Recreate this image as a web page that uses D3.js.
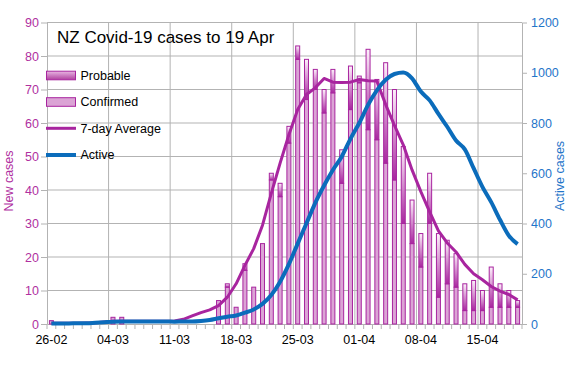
<!DOCTYPE html>
<html><head><meta charset="utf-8">
<script src="https://cdn.jsdelivr.net/npm/d3@7"></script>
<style>body{margin:0;background:#fff}svg{display:block;font-family:"Liberation Sans",Arial,sans-serif}</style>
</head><body><svg id="c" width="572" height="392"></svg>
<script>
const dates = ["26-02","27-02","28-02","29-02",
"01-03","02-03","03-03","04-03","05-03","06-03","07-03","08-03","09-03","10-03",
"11-03","12-03","13-03","14-03","15-03","16-03","17-03","18-03","19-03","20-03",
"21-03","22-03","23-03","24-03","25-03","26-03","27-03","28-03","29-03","30-03","31-03",
"01-04","02-04","03-04","04-04","05-04","06-04","07-04","08-04","09-04","10-04",
"11-04","12-04","13-04","14-04","15-04","16-04","17-04","18-04","19-04"];
const tickDates = ["26-02","04-03","11-03","18-03","25-03","01-04","08-04","15-04"];
const confirmed = [1,0,0,0,0,0,0,2,2,0, 0,0,0,0,0,0,0,0,0,7, 11,5,16,11,24,43,38,54,79,67,
  70,63,69,42,64,72,58,55,48,43, 30,24,17,30,8,12,11,4,4,4, 5,5,5,5];
const probable = [0,0,0,0,0,0,0,0,0,0, 0,0,0,0,0,0,0,0,0,0, 1,0,2,0,0,2,4,5,4,12,
  6,7,7,10,13,2,24,18,30,27, 23,13,10,15,19,13,10,8,9,6, 12,7,5,2];
const avg7 = [0.2,0.2,0.2,0.2,0.3,0.4,0.6,0.8,0.8,0.8, 0.8,0.8,0.8,0.8,0.9,1.4,2.4,3.4,4.2,5.5,
  8.0,12.0,17.5,22.5,29.5,39,48,56.5,64,68.5, 70.5,73.3,72.2,72.1,72.2,73,72.6,72.5,65.5,59.3,
  53.5,46,39.5,33.5,27.8,24.2,21.5,17.8,15,13.2, 11.2,9.8,8.8,7.2];
const active = [2,2,2,3,3,5,7,9,10,10, 10,10,10,10,9,10,10,12,16,23,
  29,34,45,58,80,115,168,238,320,401, 482,551,613,666,737,800,872,930,972,995,
  1001,978,925,890,836,785,730,695,620,546, 485,415,352,318];
const casesTicks = [0,10,20,30,40,50,60,70,80,90];
const activeTicks = [0,200,400,600,800,1000,1200];
const legendLabels = ["Probable","Confirmed","7-day Average","Active"];
const titleText = "NZ Covid-19 cases to 19 Apr";

const MAG = "#a8259f", MAGTXT = "#b0309f", BLUE = "#0b6cbb", BLUETXT = "#1f75c9", GRID = "#b3b3b3";
const CONF_FILL = "#dba4d5";
const L = 47, R = 522, T = 22.5, B = 324;

const svg = d3.select("#c");
const defs = svg.append("defs");
const g1 = defs.append("linearGradient").attr("id","pg").attr("x1",0).attr("y1",0).attr("x2",0).attr("y2",1);
g1.append("stop").attr("offset","0%").attr("stop-color","#fdf2fb");
g1.append("stop").attr("offset","100%").attr("stop-color","#a8279f");
const g2 = defs.append("linearGradient").attr("id","lg").attr("x1",0).attr("y1",0).attr("x2",0).attr("y2",1);
g2.append("stop").attr("offset","0%").attr("stop-color","#e8b6e2");
g2.append("stop").attr("offset","100%").attr("stop-color","#b0409f");

const x = d3.scaleBand().domain(dates).range([L, R]).padding(0);
const y = d3.scaleLinear().domain([0, 90]).range([B, T]);
const y2 = d3.scaleLinear().domain([0, 1200]).range([B, T]);
const cx = d => x(d) + x.bandwidth() / 2;

// grid
svg.append("g").selectAll("line").data(casesTicks.filter(v => v > 0)).join("line")
  .attr("x1", L).attr("x2", R).attr("y1", d => y(d)).attr("y2", d => y(d))
  .attr("stroke", GRID).attr("stroke-width", 1);
svg.append("g").selectAll("line").data(tickDates.slice(1)).join("line")
  .attr("x1", d => x(d)).attr("x2", d => x(d)).attr("y1", T).attr("y2", B)
  .attr("stroke", GRID).attr("stroke-width", 1);

// minor ticks on x axis
svg.append("g").selectAll("line").data(dates.concat(["end"])).join("line")
  .attr("x1", d => d === "end" ? R : x(d)).attr("x2", d => d === "end" ? R : x(d))
  .attr("y1", B).attr("y2", B + 5).attr("stroke", GRID);

// axes
const ax = svg.append("g").attr("transform", `translate(${L},0)`)
  .call(d3.axisLeft(y).tickValues(casesTicks).tickSize(6).tickSizeOuter(0).tickPadding(2));
ax.selectAll("path,line").attr("stroke", GRID);
ax.selectAll("text").attr("fill", MAGTXT).style("font-size", "12.5px").style("font-family", "Liberation Sans");

const ar = svg.append("g").attr("transform", `translate(${R},0)`)
  .call(d3.axisRight(y2).tickValues(activeTicks).tickFormat(d3.format("d")).tickSize(5).tickSizeOuter(0).tickPadding(4));
ar.selectAll("path,line").attr("stroke", GRID);
ar.selectAll("text").attr("fill", BLUETXT).style("font-size", "12.5px").style("font-family", "Liberation Sans");

const ab = svg.append("g").attr("transform", `translate(0,${B})`)
  .call(d3.axisBottom(x).tickValues(tickDates).tickSize(0).tickSizeOuter(0).tickPadding(11));
ab.selectAll("path").attr("stroke", GRID);
ab.selectAll("text").attr("fill", "#000").style("font-size", "12.5px").style("font-family", "Liberation Sans");

// bars
const bw = 4;
const bars = svg.append("g");
bars.selectAll("rect.c").data(dates.map((d, i) => ({d, c: confirmed[i], p: probable[i]})).filter(o => o.c > 0))
  .join("rect").attr("class", "c")
  .attr("x", o => cx(o.d) - bw / 2).attr("width", bw)
  .attr("y", o => y(o.c)).attr("height", o => B - y(o.c))
  .attr("fill", CONF_FILL).attr("stroke", MAG).attr("stroke-width", 1);
bars.selectAll("rect.p").data(dates.map((d, i) => ({d, c: confirmed[i], p: probable[i]})).filter(o => o.p > 0))
  .join("rect").attr("class", "p")
  .attr("x", o => cx(o.d) - bw / 2).attr("width", bw)
  .attr("y", o => y(o.c + o.p)).attr("height", o => y(o.c) - y(o.c + o.p))
  .attr("fill", "url(#pg)").attr("stroke", MAG).attr("stroke-width", 1);

// lines
svg.append("path").datum(avg7)
  .attr("d", d3.line().x((v, i) => cx(dates[i])).y(v => y(v)))
  .attr("fill", "none").attr("stroke", MAG).attr("stroke-width", 3).attr("stroke-linejoin", "round");
svg.append("path").datum(active)
  .attr("d", d3.line().x((v, i) => cx(dates[i])).y(v => y2(v)).curve(d3.curveMonotoneX))
  .attr("fill", "none").attr("stroke", BLUE).attr("stroke-width", 4).attr("stroke-linejoin", "round");

// title
svg.append("text").attr("x", 57).attr("y", 43.3).text(titleText)
  .style("font-size", "17px").attr("fill", "#000");

// legend
const lg = svg.append("g");
const rows = [75.5, 102, 128.3, 155];
lg.append("rect").attr("x", 46.5).attr("y", rows[0] - 4.3).attr("width", 29).attr("height", 8.6)
  .attr("fill", "url(#lg)").attr("stroke", MAG);
lg.append("rect").attr("x", 46.5).attr("y", rows[1] - 4.3).attr("width", 29).attr("height", 8.6)
  .attr("fill", CONF_FILL).attr("stroke", MAG);
lg.append("line").attr("x1", 46).attr("x2", 76).attr("y1", rows[2]).attr("y2", rows[2])
  .attr("stroke", MAG).attr("stroke-width", 3);
lg.append("line").attr("x1", 46).attr("x2", 76).attr("y1", rows[3]).attr("y2", rows[3])
  .attr("stroke", BLUE).attr("stroke-width", 4);
lg.selectAll("text").data(legendLabels).join("text")
  .attr("x", 80.5).attr("y", (d, i) => rows[i] + 4.3).text(d => d)
  .style("font-size", "12.5px").attr("fill", "#000");

// axis titles
svg.append("text").attr("transform", "translate(13,181) rotate(-90)").attr("text-anchor", "middle")
  .text("New cases").style("font-size", "12.5px").attr("fill", MAGTXT);
svg.append("text").attr("transform", "translate(564,176) rotate(-90)").attr("text-anchor", "middle")
  .text("Active cases").style("font-size", "12.5px").attr("fill", BLUETXT);
</script></body></html>
